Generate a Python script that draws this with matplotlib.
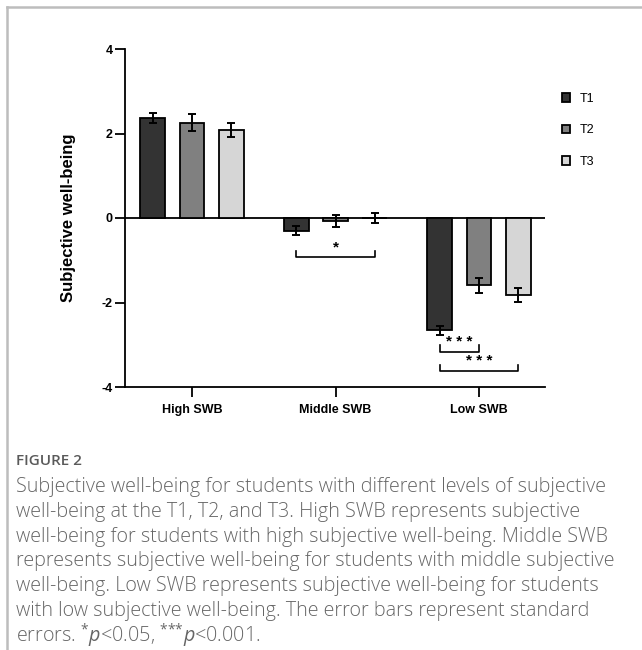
import numpy as np
import matplotlib
matplotlib.use("Agg")
import matplotlib.pyplot as plt
from matplotlib.patches import Patch
from matplotlib.lines import Line2D

groups = ["High SWB", "Middle SWB", "Low SWB"]
times = ["T1", "T2", "T3"]
means = {
    "T1": [2.37, -0.30, -2.66],
    "T2": [2.26, -0.07, -1.59],
    "T3": [2.08, 0.00, -1.82],
}
errs = {
    "T1": [0.12, 0.10, 0.11],
    "T2": [0.19, 0.14, 0.18],
    "T3": [0.17, 0.13, 0.16],
}
colors = {"T1": "#333333", "T2": "#808080", "T3": "#d6d6d6"}
yticks = [-4, -2, 0, 2, 4]

# significance brackets: (group, bar from, bar to, y line, label)
sig = [
    (1, 0, 2, -0.92, "*"),
    (2, 0, 1, -3.16, "* * *"),
    (2, 0, 2, -3.62, "* * *"),
]

caption_lines = [
    "Subjective well-being for students with different levels of subjective",
    "well-being at the T1, T2, and T3. High SWB represents subjective",
    "well-being for students with high subjective well-being. Middle SWB",
    "represents subjective well-being for students with middle subjective",
    "well-being. Low SWB represents subjective well-being for students",
    "with low subjective well-being. The error bars represent standard",
    r"errors. $^{*}p$<0.05, $^{{*}{*}{*}}p$<0.001.",
]

plt.rcParams["font.family"] = ["Liberation Sans", "DejaVu Sans"]
plt.rcParams["mathtext.fontset"] = "custom"
plt.rcParams["mathtext.rm"] = "Open Sans"
plt.rcParams["mathtext.it"] = "Open Sans:italic"

fig = plt.figure(figsize=(6.42, 6.50), dpi=100)
ax = fig.add_axes([125 / 642, 1 - 387 / 650, 420 / 642, 338 / 650])

x = np.arange(len(groups))
step = 0.272
width = 0.174
for i, t in enumerate(times):
    ax.bar(x + (i - 1) * step, means[t], width, color=colors[t],
           edgecolor="black", linewidth=1.3, zorder=2)
    ax.errorbar(x + (i - 1) * step, means[t], yerr=errs[t], fmt="none",
                ecolor="black", elinewidth=1.4, capsize=3, capthick=1.4, zorder=3)

ax.axhline(0, color="black", linewidth=1.3, zorder=1)

for g, a, b, yl, lab in sig:
    xa = g + (a - 1) * step
    xb = g + (b - 1) * step
    h = 0.15
    ax.plot([xa, xa, xb, xb], [yl + h, yl, yl, yl + h], color="black",
            linewidth=1.2, clip_on=False)
    ax.text((xa + xb) / 2, yl + 0.06, lab, ha="center", va="bottom",
            fontsize=11, fontweight="bold")

ax.set_xlim(-0.467, 2.46)
ax.set_ylim(-4, 4)
ax.set_yticks(yticks)
ax.set_xticks(x)
ax.set_xticklabels(groups, fontweight="bold", fontsize=9)
ax.set_yticklabels([str(v) for v in yticks], fontweight="bold", fontsize=9)
ax.tick_params(axis="both", length=7, width=1.3, direction="out", pad=2)
ax.tick_params(axis="x", pad=5)
for s in ["top", "right"]:
    ax.spines[s].set_visible(False)
for s in ["left", "bottom"]:
    ax.spines[s].set_linewidth(1.3)
ax.set_ylabel("Subjective well-being", fontsize=12, fontweight="bold", labelpad=18)

handles = [Patch(facecolor=colors[t], edgecolor="black", linewidth=1.3) for t in times]
fig.legend(handles, times, loc="upper left", bbox_to_anchor=(562 / 642, 1 - 93 / 650),
           frameon=False, fontsize=9, handlelength=0.65, handleheight=0.65,
           handletextpad=0.75, labelspacing=1.55, borderpad=0, borderaxespad=0)

# outer frame lines
fig.add_artist(Line2D([7 / 642, 1], [1 - 7 / 650, 1 - 7 / 650], color="#bdbdbd",
                      linewidth=1.8, transform=fig.transFigure))
fig.add_artist(Line2D([7 / 642, 7 / 642], [0, 1 - 7 / 650], color="#bdbdbd",
                      linewidth=1.8, transform=fig.transFigure))

fig.text(16 / 642, 1 - 461 / 650, "FIGURE 2", fontsize=11, color="#5a5a5a",
         family="Open Sans", fontweight="semibold", va="center")
for k, line in enumerate(caption_lines):
    fig.text(16 / 642, 1 - (487 + k * 24.8) / 650, line, fontsize=14.2,
             color="#666666", family="Open Sans", fontweight="light", va="center")

fig.savefig("out.png", dpi=100)
